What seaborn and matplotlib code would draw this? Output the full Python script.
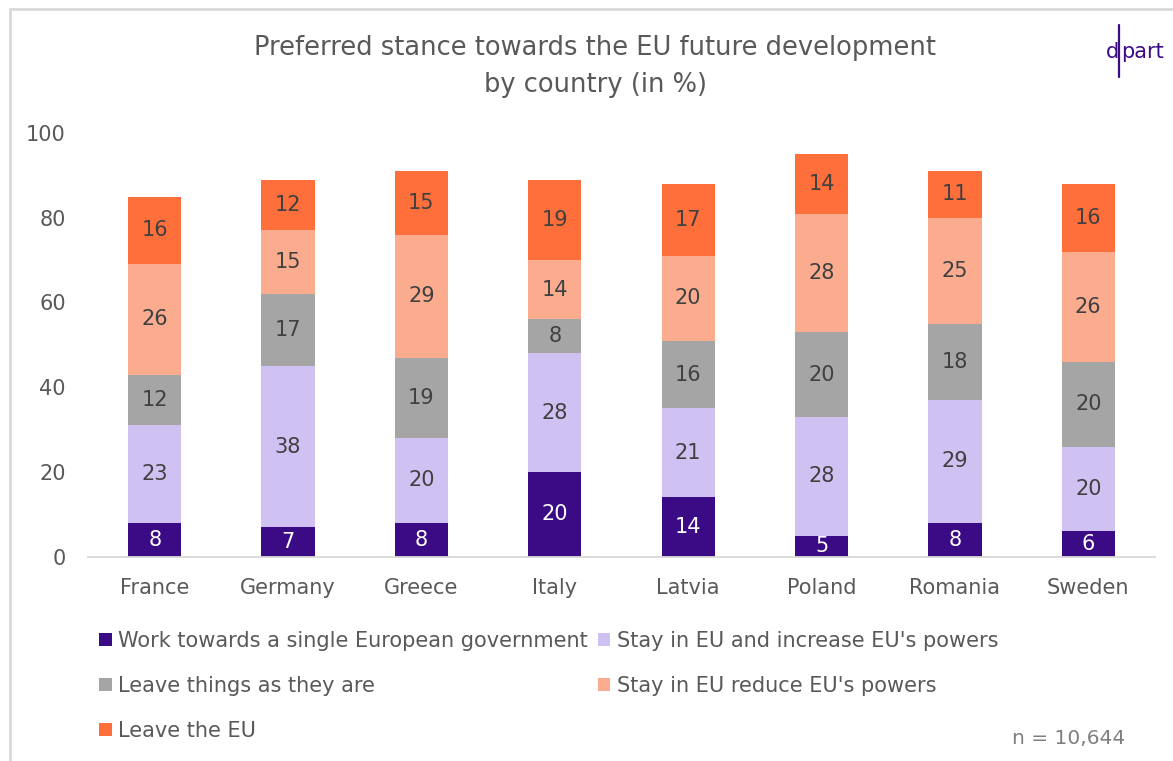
import matplotlib
matplotlib.use("Agg")
import matplotlib.pyplot as plt
from matplotlib.patches import Patch
from matplotlib.lines import Line2D
import seaborn as sns
import numpy as np
import pandas as pd

countries = ["France", "Germany", "Greece", "Italy", "Latvia", "Poland", "Romania", "Sweden"]
stances = ["Work towards a single European government", "Stay in EU and increase EU's powers",
           "Leave things as they are", "Stay in EU reduce EU's powers", "Leave the EU"]
single_gov = [8, 7, 8, 20, 14, 5, 8, 6]
increase = [23, 38, 20, 28, 21, 28, 29, 20]
as_is = [12, 17, 19, 8, 16, 20, 18, 20]
reduce = [26, 15, 29, 14, 20, 28, 25, 26]
leave = [16, 12, 15, 19, 17, 14, 11, 16]
colors = ["#3b0a85", "#cfc2f2", "#a5a5a5", "#fbac8f", "#ff6f3b"]

sns.set_style("white")
plt.rcParams["font.family"] = ["DejaVu Sans"]

df = pd.DataFrame({"country": countries, stances[0]: single_gov, stances[1]: increase,
                   stances[2]: as_is, stances[3]: reduce, stances[4]: leave})
cum = df[stances].cumsum(axis=1)

fig = plt.figure(figsize=(11.73, 7.61), dpi=100)
ax = fig.add_axes([88 / 1173, 1 - 556.7 / 761, (1155 - 88) / 1173, (556.7 - 133) / 761])

# stacked bars: draw cumulative totals from the top layer down
for i in reversed(range(len(stances))):
    sns.barplot(x=df["country"], y=cum[stances[i]], color=colors[i], width=0.4,
                linewidth=0, saturation=1, ax=ax)

# segment labels
for i, s in enumerate(stances):
    mids = cum[s] - df[s] / 2
    for x, (m, v) in enumerate(zip(mids, df[s])):
        ax.text(x, m, str(v), ha="center", va="center", fontsize=15,
                color="white" if i == 0 else "#404040")

ax.set_ylim(0, 100)
ax.set_xlim(-0.5, len(countries) - 0.5)
ax.set_yticks(np.arange(0, 101, 20))
ax.set_xlabel("")
ax.set_ylabel("")
for side in ["top", "right", "left"]:
    ax.spines[side].set_visible(False)
ax.spines["bottom"].set_color("#d9d9d9")
ax.spines["bottom"].set_linewidth(1.3)
ax.tick_params(axis="y", length=0, pad=16, labelsize=15, labelcolor="#595959")
ax.tick_params(axis="x", which="major", length=0, pad=15, labelsize=15, labelcolor="#595959")
ax.set_xticks(np.arange(-0.5, len(countries), 1), minor=True)
ax.tick_params(axis="x", which="minor", length=8, color="#d9d9d9", width=1.3)

# title
fig.text(595 / 1173, 1 - 48 / 761, "Preferred stance towards the EU future development",
         ha="center", va="center", fontsize=18.5, color="#595959")
fig.text(595 / 1173, 1 - 85 / 761, "by country (in %)",
         ha="center", va="center", fontsize=18.5, color="#595959")

# logo
logo = "#3b0a85"
fig.text(1119 / 1173, 1 - 52 / 761, "d", ha="right", va="center", fontsize=15, color=logo)
fig.text(1121 / 1173, 1 - 52 / 761, "part", ha="left", va="center", fontsize=15, color=logo)
fig.add_artist(Line2D([1118.5 / 1173, 1118.5 / 1173], [1 - 25 / 761, 1 - 77 / 761], color=logo, lw=1.6))

# frame
fig.add_artist(Line2D([10 / 1173, 1], [1 - 9 / 761, 1 - 9 / 761], color="#d9d9d9", lw=2))
fig.add_artist(Line2D([10 / 1173, 10 / 1173], [1 - 9 / 761, 0], color="#d9d9d9", lw=2))

# legend, row-major order -> reorder for column filling
order = [0, 2, 4, 1, 3]
handles = [Patch(facecolor=colors[k], edgecolor="none") for k in order]
labels = [stances[k] for k in order]
fig.legend(handles, labels, ncol=2, loc="upper left", bbox_to_anchor=(99 / 1173, 1 - 631 / 761),
           frameon=False, fontsize=15, labelcolor="#595959", handlelength=0.6, handleheight=0.6,
           handletextpad=0.3, columnspacing=0.5, labelspacing=1.2, borderaxespad=0, borderpad=0)

fig.text(1125 / 1173, 1 - 738 / 761, "n = 10,644", ha="right", va="center", fontsize=14.5, color="#7f7f7f")

plt.savefig("out.png", dpi=100)
